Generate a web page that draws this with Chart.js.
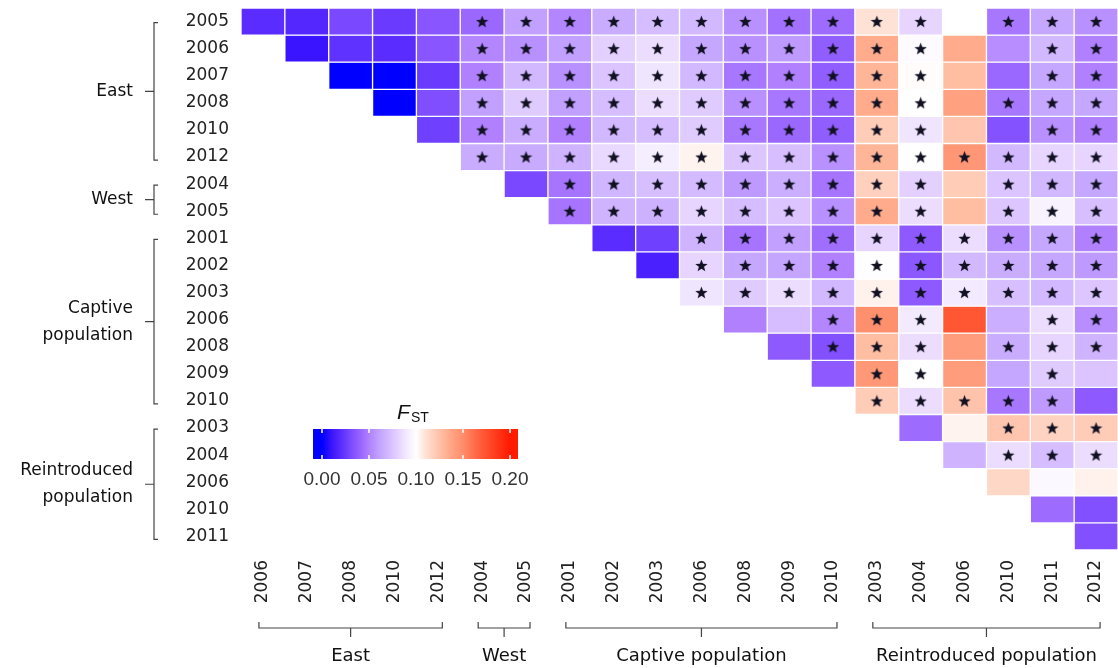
<!DOCTYPE html>
<html>
<head>
<meta charset="utf-8">
<script src="https://cdn.jsdelivr.net/npm/chart.js@4.4.0/dist/chart.umd.min.js"></script>
<style>
  html, body { margin: 0; padding: 0; background: #ffffff; }
</style>
</head>
<body>
<canvas id="myChart" width="1118" height="668"></canvas>
<script>
// row / column labels (sampling years)
const rowLabels = ['2005', '2006', '2007', '2008', '2010', '2012', '2004', '2005', '2001', '2002',
                   '2003', '2006', '2008', '2009', '2010', '2003', '2004', '2006', '2010', '2011'];
const colLabels = ['2006', '2007', '2008', '2010', '2012', '2004', '2005', '2001', '2002', '2003',
                   '2006', '2008', '2009', '2010', '2003', '2004', '2006', '2010', '2011', '2012'];

// [label, first index, last index]
const rowGroups = [['East', 0, 5], ['West', 6, 7], ['Captive\npopulation', 8, 14], ['Reintroduced\npopulation', 15, 19]];
const colGroups = [['East', 0, 4], ['West', 5, 6], ['Captive population', 7, 13], ['Reintroduced population', 14, 19]];

// pairwise FST, row r holds columns r..19 (null = not estimated)
const fst = [
    [0.020, 0.018, 0.030, 0.025, 0.035, 0.042, 0.060, 0.052, 0.065, 0.072, 0.070, 0.055, 0.045, 0.043, 0.110, 0.082, null, 0.047, 0.063, 0.055],
    [0.010, 0.022, 0.020, 0.035, 0.052, 0.055, 0.060, 0.080, 0.085, 0.063, 0.055, 0.058, 0.038, 0.135, 0.098, 0.135, 0.054, 0.070, 0.050],
    [0.000, 0.000, 0.025, 0.050, 0.070, 0.055, 0.075, 0.088, 0.070, 0.047, 0.050, 0.038, 0.130, 0.101, 0.127, 0.042, 0.063, 0.050],
    [0.000, 0.032, 0.060, 0.078, 0.060, 0.072, 0.085, 0.078, 0.055, 0.047, 0.042, 0.135, 0.100, 0.140, 0.047, 0.063, 0.063],
    [0.027, 0.050, 0.065, 0.050, 0.070, 0.072, 0.078, 0.047, 0.042, 0.038, 0.120, 0.088, 0.123, 0.034, 0.055, 0.050],
    [0.065, 0.064, 0.068, 0.083, 0.092, 0.104, 0.076, 0.073, 0.055, 0.130, 0.100, 0.145, 0.070, 0.082, 0.082],
    [0.030, 0.046, 0.069, 0.073, 0.071, 0.058, 0.066, 0.046, 0.118, 0.080, 0.120, 0.075, 0.070, 0.063],
    [0.046, 0.068, 0.067, 0.082, 0.072, 0.075, 0.055, 0.135, 0.085, 0.127, 0.076, 0.094, 0.073],
    [0.020, 0.027, 0.068, 0.046, 0.060, 0.044, 0.082, 0.037, 0.085, 0.055, 0.063, 0.050],
    [0.015, 0.082, 0.063, 0.062, 0.050, 0.099, 0.036, 0.070, 0.065, 0.063, 0.058],
    [0.088, 0.078, 0.085, 0.070, 0.105, 0.037, 0.090, 0.073, 0.070, 0.076],
    [0.050, 0.072, 0.052, 0.148, 0.090, 0.172, 0.066, 0.085, 0.054],
    [0.037, 0.033, 0.127, 0.085, 0.142, 0.065, 0.082, 0.068],
    [0.037, 0.144, 0.100, 0.142, 0.063, 0.078, 0.075],
    [0.120, 0.085, 0.124, 0.047, 0.058, 0.037],
    [0.043, 0.104, 0.123, 0.117, 0.120],
    [0.068, 0.085, 0.072, 0.085],
    [0.115, 0.097, 0.105],
    [0.043, 0.033],
    [0.033]
];

// significance flags, same layout as fst (1 = star)
const sig = [
    '00000111111111110111', '0000111111111110011', '000111111111110011', '00111111111110111',
    '0111111111110011', '111111111111111', '01111111110111', '1111111110111',
    '001111111111', '01111111111', '1111111111', '001110011', '01110111', '0110010',
    '111110', '00111', '0111', '000', '00', '0'
];

const legendTicks = [0.00, 0.05, 0.10, 0.15, 0.20];

// blue - white - red colour ramp
const colorStops = [
    [0.00, 0, 0, 255], [0.01, 58, 20, 255], [0.02, 90, 44, 255], [0.03, 122, 72, 255],
    [0.04, 150, 98, 255], [0.05, 176, 128, 255], [0.06, 193, 160, 255], [0.07, 210, 184, 255],
    [0.08, 228, 208, 255], [0.09, 243, 234, 255], [0.10, 255, 255, 255], [0.11, 255, 226, 214],
    [0.12, 255, 204, 184], [0.13, 255, 182, 152], [0.14, 255, 160, 128], [0.15, 255, 140, 106],
    [0.17, 255, 90, 56], [0.20, 255, 26, 0]
];

function fstColor(v) {
    if (v <= colorStops[0][0]) return `rgb(${colorStops[0].slice(1).join(',')})`;
    for (let i = 1; i < colorStops.length; i++) {
        if (v <= colorStops[i][0]) {
            const a = colorStops[i - 1], b = colorStops[i];
            const t = (v - a[0]) / (b[0] - a[0]);
            const ch = k => Math.round(a[k] + (b[k] - a[k]) * t);
            return `rgb(${ch(1)},${ch(2)},${ch(3)})`;
        }
    }
    return `rgb(${colorStops[colorStops.length - 1].slice(1).join(',')})`;
}

function makeStar(size) {
    const c = document.createElement('canvas');
    c.width = size; c.height = size;
    const g = c.getContext('2d');
    const cx = size / 2, cy = size / 2 + 0.5, R = size / 2, r = R * 0.42;
    g.beginPath();
    for (let i = 0; i < 10; i++) {
        const a = -Math.PI / 2 + i * Math.PI / 5;
        const rad = i % 2 === 0 ? R : r;
        g.lineTo(cx + rad * Math.cos(a), cy + rad * Math.sin(a));
    }
    g.closePath();
    g.fillStyle = '#111122';
    g.fill();
    return c;
}

const heatSets = fst.map((vals, r) => ({
    type: 'bar',
    label: rowLabels[r],
    data: colLabels.map((_, c) => (c >= r && vals[c - r] != null) ? [r - 0.5, r + 0.5] : null),
    backgroundColor: colLabels.map((_, c) => (c >= r && vals[c - r] != null) ? fstColor(vals[c - r]) : 'rgba(0,0,0,0)'),
    borderColor: '#ffffff',
    borderWidth: 1,
    borderSkipped: false,
    grouped: false,
    barPercentage: 1,
    categoryPercentage: 1,
    order: 2
}));

const starPoints = [];
sig.forEach((s, r) => s.split('').forEach((f, k) => {
    if (f === '1') starPoints.push({ x: r + k, y: r });
}));

const FONT = 'DejaVu Sans';

const annotate = {
    id: 'annotate',
    afterDraw(chart) {
        const { ctx, chartArea, scales } = chart;
        const xs = scales.x, ys = scales.y;
        ctx.save();
        ctx.strokeStyle = '#444';
        ctx.lineWidth = 1.2;
        ctx.fillStyle = '#111';

        // left brackets
        const bx = chartArea.left - 87;
        ctx.font = `17px "${FONT}"`;
        ctx.textAlign = 'right';
        ctx.textBaseline = 'middle';
        rowGroups.forEach(([name, a, b]) => {
            const y0 = ys.getPixelForValue(a) + 1, y1 = ys.getPixelForValue(b) + 3;
            const ym = (y0 + y1) / 2;
            ctx.beginPath();
            ctx.moveTo(bx + 4, y0); ctx.lineTo(bx, y0); ctx.lineTo(bx, y1); ctx.lineTo(bx + 4, y1);
            ctx.moveTo(bx, ym); ctx.lineTo(bx - 9, ym);
            ctx.stroke();
            const lines = name.split('\n');
            lines.forEach((t, i) => ctx.fillText(t, bx - 21, ym + (i - (lines.length - 1) / 2) * 27));
        });

        // bottom brackets
        const by = chartArea.bottom + 78;
        ctx.font = `18px "${FONT}"`;
        ctx.textAlign = 'center';
        colGroups.forEach(([name, a, b]) => {
            const x0 = xs.getPixelForValue(a) - 4, x1 = xs.getPixelForValue(b) + 4;
            const xm = (x0 + x1) / 2;
            ctx.beginPath();
            ctx.moveTo(x0, by - 6); ctx.lineTo(x0, by); ctx.lineTo(x1, by); ctx.lineTo(x1, by - 6);
            ctx.moveTo(xm, by); ctx.lineTo(xm, by + 9);
            ctx.stroke();
            ctx.fillText(name, xm, by + 28);
        });

        // colour key
        const kx0 = chartArea.left + 81, kx1 = chartArea.left + 269; // 0.00 .. 0.20
        const kl = chartArea.left + 72, kr = chartArea.left + 277;
        const ky = 429, kh = 30;
        for (let x = kl; x < kr; x++) {
            const v = Math.max(0, Math.min(0.2, (x + 0.5 - kx0) / (kx1 - kx0) * 0.2));
            ctx.fillStyle = fstColor(v);
            ctx.fillRect(x, ky, 1, kh);
        }
        ctx.strokeStyle = '#ffffff';
        ctx.lineWidth = 1.5;
        ctx.fillStyle = '#333';
        ctx.font = '19px "Liberation Sans"';
        ctx.textBaseline = 'middle';
        legendTicks.forEach(v => {
            const x = kx0 + (kx1 - kx0) * v / 0.2;
            ctx.beginPath();
            ctx.moveTo(x, ky); ctx.lineTo(x, ky + 4);
            ctx.moveTo(x, ky + kh); ctx.lineTo(x, ky + kh - 4);
            ctx.stroke();
            ctx.fillText(v.toFixed(2), x, ky + 51);
        });
        ctx.fillStyle = '#111';
        ctx.textAlign = 'left';
        ctx.textBaseline = 'alphabetic';
        ctx.font = 'italic 21px "Liberation Sans"';
        ctx.fillText('F', chartArea.left + 156, 419);
        ctx.font = '14px "Liberation Sans"';
        ctx.fillText('ST', chartArea.left + 170, 422);
        ctx.restore();
    }
};

new Chart(document.getElementById('myChart').getContext('2d'), {
    type: 'bar',
    data: {
        labels: colLabels.map((_, i) => i),
        datasets: [
            {
                type: 'scatter',
                label: 'significant',
                data: starPoints,
                pointStyle: makeStar(13),
                pointRadius: 6,
                order: 0
            },
            ...heatSets
        ]
    },
    options: {
        responsive: false,
        animation: false,
        layout: { autoPadding: false, padding: { top: 8, right: 0, bottom: 0, left: 0 } },
        plugins: {
            legend: { display: false },
            tooltip: { enabled: false }
        },
        scales: {
            x: {
                type: 'category',
                offset: true,
                grid: { display: false, drawTicks: false },
                border: { display: false },
                ticks: {
                    autoSkip: false,
                    minRotation: 90,
                    maxRotation: 90,
                    padding: 10,
                    color: '#222',
                    font: { family: FONT, size: 17 },
                    callback: v => colLabels[v]
                },
                afterFit: s => { s.height = 118; s.paddingLeft = 0; s.paddingRight = 0; }
            },
            y: {
                type: 'linear',
                reverse: true,
                min: -0.5,
                max: 19.5,
                grid: { display: false, drawTicks: false },
                border: { display: false },
                afterBuildTicks: s => { s.ticks = rowLabels.map((_, i) => ({ value: i })); },
                ticks: {
                    autoSkip: false,
                    padding: 12,
                    color: '#222',
                    font: { family: FONT, size: 17 },
                    callback: v => rowLabels[v]
                },
                afterFit: s => { s.width = 241; s.paddingTop = 0; s.paddingBottom = 0; }
            }
        }
    },
    plugins: [annotate]
});
</script>
</body>
</html>
